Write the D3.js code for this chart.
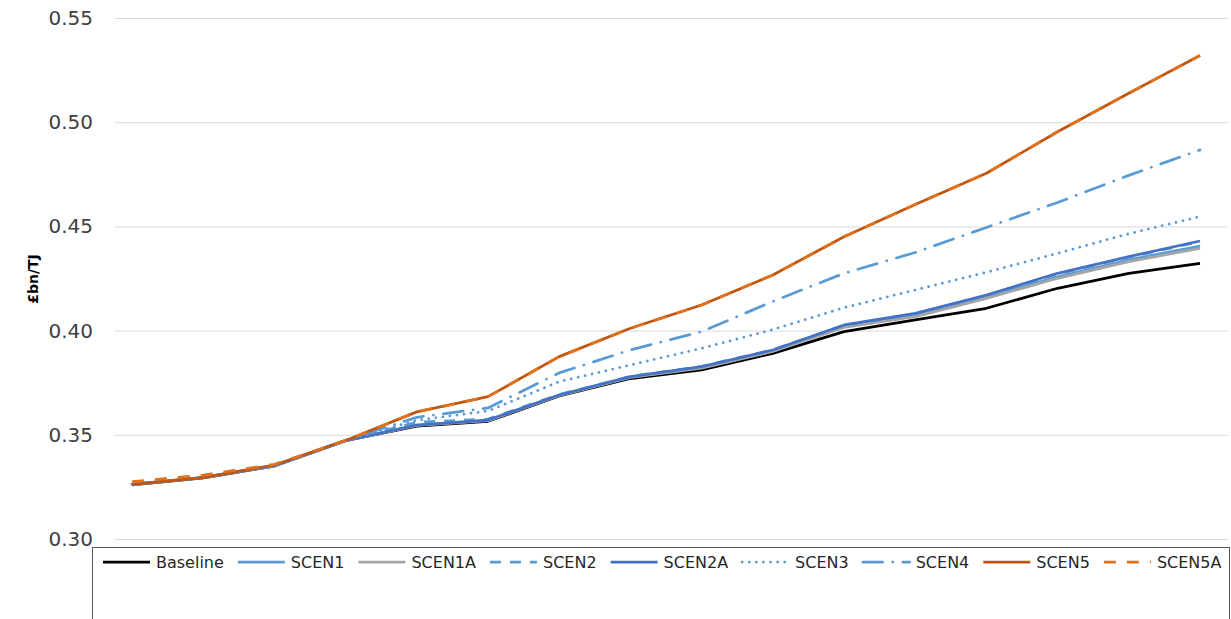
<!DOCTYPE html>
<html>
<head>
<meta charset="UTF-8">
<title>Cost per TJ by scenario</title>
<style>
  body { margin: 0; background: #fff; }
  svg { display: block; font-family: "DejaVu Sans", sans-serif; }
</style>
</head>
<body>
<svg></svg>
<script src="https://d3js.org/d3.v7.min.js"></script>
<script>
    let width = 1231, height = 619;

    // data
    let years = [2020, 2022, 2024, 2026, 2028, 2030, 2032, 2034, 2036, 2038, 2040, 2042, 2044, 2046, 2048, 2050];
    let yTicks = [0.30, 0.35, 0.40, 0.45, 0.50, 0.55];
    let seriesNames = ["Baseline", "SCEN1", "SCEN1A", "SCEN2", "SCEN2A", "SCEN3", "SCEN4", "SCEN5", "SCEN5A"];

    let baseline = [0.3260, 0.3293, 0.3350, 0.3472, 0.3542, 0.3565, 0.3686, 0.3770, 0.3811, 0.3891, 0.3995, 0.4051, 0.4107, 0.4203, 0.4275, 0.4323];
    let scen1    = [0.3261, 0.3294, 0.3351, 0.3472, 0.3546, 0.3569, 0.3690, 0.3777, 0.3822, 0.3902, 0.4020, 0.4072, 0.4160, 0.4258, 0.4340, 0.4405];
    let scen1a   = [0.3261, 0.3294, 0.3351, 0.3472, 0.3545, 0.3568, 0.3689, 0.3775, 0.3820, 0.3900, 0.4015, 0.4067, 0.4155, 0.4251, 0.4331, 0.4395];
    let scen2    = [0.3262, 0.3295, 0.3352, 0.3473, 0.3560, 0.3575, 0.3693, 0.3780, 0.3828, 0.3908, 0.4025, 0.4080, 0.4168, 0.4272, 0.4352, 0.4427];
    let scen2a   = [0.3262, 0.3295, 0.3352, 0.3472, 0.3547, 0.3571, 0.3691, 0.3779, 0.3827, 0.3907, 0.4027, 0.4083, 0.4171, 0.4275, 0.4355, 0.4430];
    let scen3    = [0.3262, 0.3295, 0.3352, 0.3473, 0.3570, 0.3614, 0.3755, 0.3835, 0.3915, 0.4005, 0.4110, 0.4195, 0.4280, 0.4371, 0.4465, 0.4547];
    let scen4    = [0.3263, 0.3296, 0.3353, 0.3473, 0.3584, 0.3629, 0.3797, 0.3907, 0.3995, 0.4140, 0.4275, 0.4375, 0.4495, 0.4615, 0.4745, 0.4867];
    let scen5    = [0.3262, 0.3295, 0.3355, 0.3473, 0.3610, 0.3683, 0.3875, 0.4011, 0.4123, 0.4267, 0.4450, 0.4605, 0.4755, 0.4954, 0.5139, 0.5320];
    let scen5a   = [0.3275, 0.3307, 0.3358, 0.3473, 0.3610, 0.3683, 0.3875, 0.4011, 0.4123, 0.4267, 0.4450, 0.4605, 0.4755, 0.4954, 0.5139, 0.5320];

    let allValues = [baseline, scen1, scen1a, scen2, scen2a, scen3, scen4, scen5, scen5a];

    // line styles
    let styles = {
        "Baseline": { color: "#000000", dash: null, cap: "butt" },
        "SCEN1":    { color: "#5B9BD5", dash: null, cap: "butt" },
        "SCEN1A":   { color: "#A5A5A5", dash: null, cap: "butt" },
        "SCEN2":    { color: "#5B9BD5", dash: "11,9", cap: "butt" },
        "SCEN2A":   { color: "#4472C4", dash: null, cap: "butt" },
        "SCEN3":    { color: "#5B9BD5", dash: "0.1,7", cap: "round" },
        "SCEN4":    { color: "#5B9BD5", dash: "20,10,0.1,10", cap: "round" },
        "SCEN5":    { color: "#C0560F", dash: null, cap: "butt" },
        "SCEN5A":   { color: "#E0721E", dash: "12,11", cap: "butt" }
    };

    let svg = d3.select("svg")
        .attr("width", width)
        .attr("height", height);

    let x = d3.scalePoint().domain(years).range([132, 1200]);
    let y = d3.scaleLinear().domain([0.30, 0.55]).range([539, 18]);

    // gridlines + tick labels
    let yAxis = d3.axisLeft(y)
        .tickValues(yTicks)
        .tickFormat(d3.format(".2f"))
        .tickSize(-(1228 - 115))
        .tickPadding(22);

    let gy = svg.append("g")
        .attr("transform", "translate(115,0)")
        .call(yAxis);
    gy.select(".domain").remove();
    gy.selectAll(".tick line").attr("stroke", "#d9d9d9").attr("stroke-width", 1);
    gy.selectAll(".tick text")
        .attr("fill", "#404040")
        .style("font-size", "20px")
        .attr("font-family", "DejaVu Sans");

    // axis title
    svg.append("text")
        .attr("transform", "translate(38,279) rotate(-90)")
        .attr("text-anchor", "middle")
        .style("font-size", "14px")
        .style("font-weight", "bold")
        .attr("fill", "#000")
        .text("£bn/TJ");

    let line = d3.line()
        .x((d, i) => x(years[i]))
        .y(d => y(d));

    svg.append("g")
        .selectAll("path")
        .data(seriesNames)
        .enter()
        .append("path")
        .attr("d", (name, i) => line(allValues[i]))
        .attr("fill", "none")
        .attr("stroke", name => styles[name].color)
        .attr("stroke-width", 2.75)
        .attr("stroke-dasharray", name => styles[name].dash)
        .attr("stroke-linecap", name => styles[name].cap)
        .attr("stroke-linejoin", "round");

    // legend
    let legend = svg.append("g");
    legend.append("rect")
        .attr("x", 92.5).attr("y", 547.5)
        .attr("width", 1229 - 92).attr("height", 90)
        .attr("fill", "#fff")
        .attr("stroke", "#595959")
        .attr("stroke-width", 1);

    let lx = 103, ly = 562;
    seriesNames.forEach(name => {
        let s = styles[name];
        legend.append("line")
            .attr("x1", lx).attr("x2", lx + 47)
            .attr("y1", ly).attr("y2", ly)
            .attr("stroke", s.color)
            .attr("stroke-width", 2.75)
            .attr("stroke-dasharray", s.dash)
            .attr("stroke-linecap", s.cap);
        let t = legend.append("text")
            .attr("x", lx + 53)
            .attr("y", ly)
            .attr("dy", "0.35em")
            .style("font-size", "16px")
            .attr("fill", "#262626")
            .text(name);
        lx = lx + 53 + t.node().getComputedTextLength() + 14;
    });
</script>
</body>
</html>
